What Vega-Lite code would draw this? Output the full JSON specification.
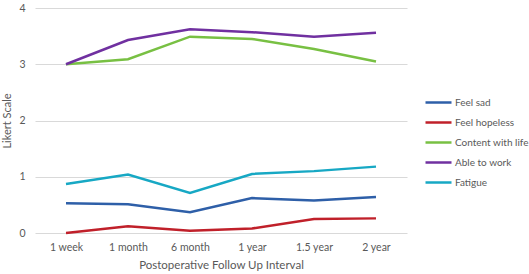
{
  "$schema": "https://vega.github.io/schema/vega-lite/v6.json",
  "autosize": "none",
  "width": 372,
  "height": 225,
  "padding": {"left": 35, "top": 8, "right": 122, "bottom": 41},
  "background": "white",
  "config": {"view": {"stroke": null}, "font": "Lato"},
  "data": {"values": [
    {"t": "1 week", "s": "Feel sad", "v": 0.53},
    {"t": "1 month", "s": "Feel sad", "v": 0.51},
    {"t": "6 month", "s": "Feel sad", "v": 0.37},
    {"t": "1 year", "s": "Feel sad", "v": 0.62},
    {"t": "1.5 year", "s": "Feel sad", "v": 0.58},
    {"t": "2 year", "s": "Feel sad", "v": 0.64},
    {"t": "1 week", "s": "Feel hopeless", "v": 0.0},
    {"t": "1 month", "s": "Feel hopeless", "v": 0.12},
    {"t": "6 month", "s": "Feel hopeless", "v": 0.04},
    {"t": "1 year", "s": "Feel hopeless", "v": 0.08},
    {"t": "1.5 year", "s": "Feel hopeless", "v": 0.25},
    {"t": "2 year", "s": "Feel hopeless", "v": 0.26},
    {"t": "1 week", "s": "Content with life", "v": 3.0},
    {"t": "1 month", "s": "Content with life", "v": 3.09},
    {"t": "6 month", "s": "Content with life", "v": 3.49},
    {"t": "1 year", "s": "Content with life", "v": 3.45},
    {"t": "1.5 year", "s": "Content with life", "v": 3.27},
    {"t": "2 year", "s": "Content with life", "v": 3.05},
    {"t": "1 week", "s": "Able to work", "v": 3.0},
    {"t": "1 month", "s": "Able to work", "v": 3.43},
    {"t": "6 month", "s": "Able to work", "v": 3.62},
    {"t": "1 year", "s": "Able to work", "v": 3.57},
    {"t": "1.5 year", "s": "Able to work", "v": 3.49},
    {"t": "2 year", "s": "Able to work", "v": 3.56},
    {"t": "1 week", "s": "Fatigue", "v": 0.87},
    {"t": "1 month", "s": "Fatigue", "v": 1.04},
    {"t": "6 month", "s": "Fatigue", "v": 0.71},
    {"t": "1 year", "s": "Fatigue", "v": 1.05},
    {"t": "1.5 year", "s": "Fatigue", "v": 1.10},
    {"t": "2 year", "s": "Fatigue", "v": 1.18}
  ]},
  "mark": {"type": "line", "strokeWidth": 2.5},
  "encoding": {
    "x": {
      "field": "t", "type": "ordinal",
      "sort": ["1 week", "1 month", "6 month", "1 year", "1.5 year", "2 year"],
      "scale": {"type": "point", "padding": 0.5},
      "axis": {
        "title": "Postoperative Follow Up Interval",
        "labelAngle": 0, "domain": false, "ticks": false, "grid": false,
        "labelPadding": 9, "labelFontSize": 10.5, "labelColor": "#595959",
        "titleFontSize": 11.5, "titleFontWeight": "normal", "titleColor": "#595959",
        "titlePadding": 7
      }
    },
    "y": {
      "field": "v", "type": "quantitative",
      "scale": {"domain": [0, 4], "nice": false},
      "axis": {
        "title": "Likert Scale", "values": [0, 1, 2, 3, 4],
        "domain": false, "ticks": false, "gridColor": "#d9d9d9", "gridWidth": 1,
        "labelPadding": 10, "labelFontSize": 10.5, "labelColor": "#595959",
        "titleFontSize": 11, "titleFontWeight": "normal", "titleColor": "#595959",
        "titlePadding": 6
      }
    },
    "color": {
      "field": "s", "type": "nominal",
      "sort": ["Feel sad", "Feel hopeless", "Content with life", "Able to work", "Fatigue"],
      "scale": {
        "domain": ["Feel sad", "Feel hopeless", "Content with life", "Able to work", "Fatigue"],
        "range": ["#2E5FA8", "#C0202A", "#78C043", "#7030A0", "#17A8C4"]
      },
      "legend": {
        "title": null, "orient": "none", "legendX": 389, "legendY": 80,
        "symbolType": "stroke", "symbolSize": 676, "symbolStrokeWidth": 2.5,
        "labelFontSize": 10, "labelColor": "#595959", "labelOffset": 2,
        "rowPadding": 0
      }
    }
  }
}
